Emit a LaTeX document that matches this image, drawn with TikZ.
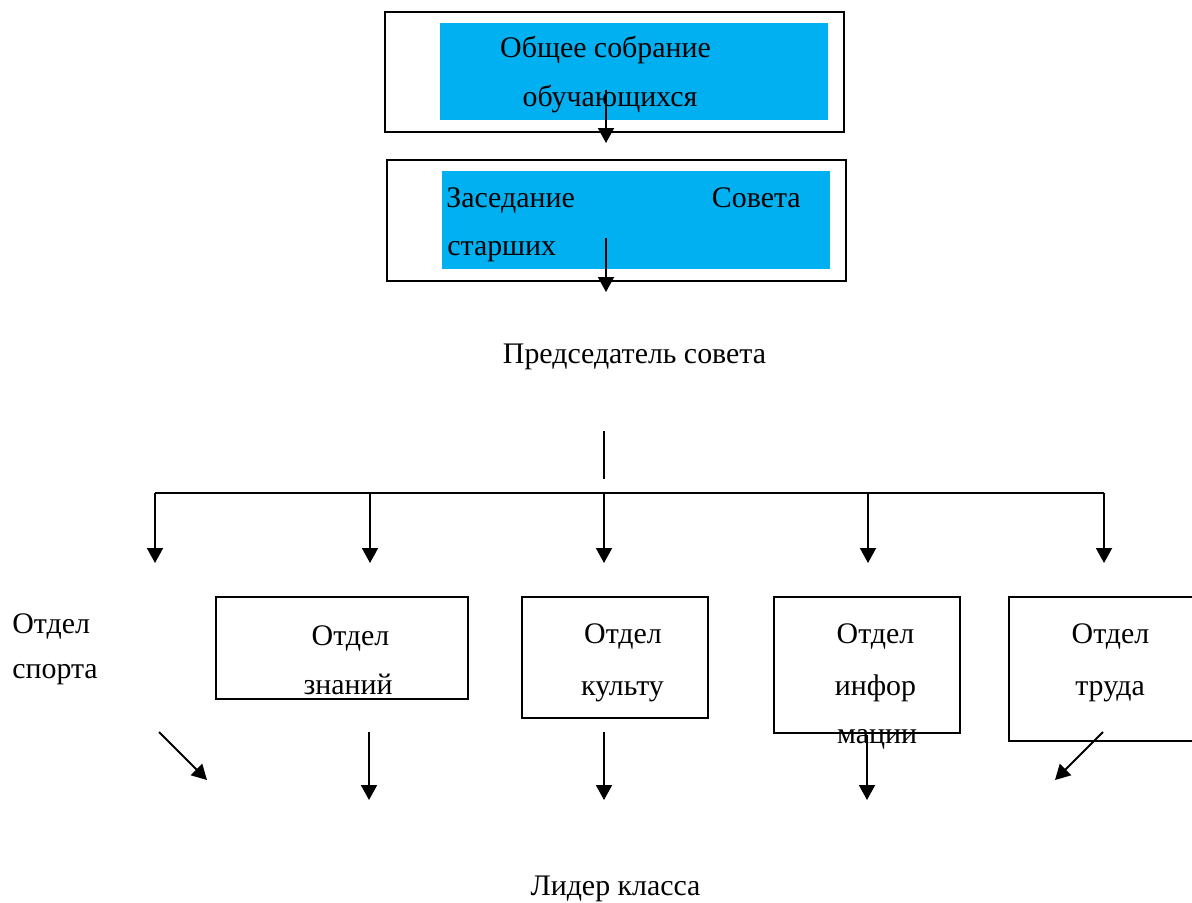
\documentclass[tikz,border=0pt]{standalone}
\usepackage{fontspec}
\setmainfont{Liberation Serif}
\usetikzlibrary{arrows.meta}
\definecolor{vdarkgray}{HTML}{000000}
\definecolor{vcyan}{HTML}{00B0F0}

\tikzset{
	frame/.style={draw=vdarkgray, line width=1.1pt},
	lbl/.style={anchor=base, inner sep=0pt, font=\fontsize{17}{20}\selectfont},
	link/.style={color=vdarkgray, line width=1.1pt, -{Triangle[length=0.3cm, width=0.32cm]}},
	wire/.style={color=vdarkgray, line width=1.1pt}
}

\begin{document}
\begin{tikzpicture}[x=0.02cm, y=-0.02cm]
		\useasboundingbox (0,0) rectangle (1192,902);
		% upper boxes
		\fill[color=vcyan] (440,23) rectangle (828,120);
		\draw[frame] (385,12) rectangle (844,132);
		\fill[color=vcyan] (442,171) rectangle (830,269);
		\draw[frame] (387,160) rectangle (846,281);
		\node[lbl] (sob1) at (605.5,58) {Общее собрание};
		\node[lbl] (sob2) at (610,107) {обучающихся};
		\node[lbl, anchor=base west] (zas1) at (446,207) {Заседание};
		\node[lbl, anchor=base east] (zas2) at (801,207) {Совета};
		\node[lbl, anchor=base west] (zas3) at (447,255) {старших};
		\node[lbl] (pred) at (634.5,363) {Председатель совета};
		% departments
		\draw[frame] (216,597) rectangle (468,699);
		\draw[frame] (522,597) rectangle (708,718);
		\draw[frame] (774,597) rectangle (960,733);
		\draw[frame] (1009,597) rectangle (1200,741);
		\node[lbl, anchor=base west] (sp1) at (12,633) {Отдел};
		\node[lbl, anchor=base west] (sp2) at (12,678) {спорта};
		\node[lbl] (zn1) at (350.5,645) {Отдел};
		\node[lbl] (zn2) at (348,694) {знаний};
		\node[lbl] (ku1) at (623,643) {Отдел};
		\node[lbl] (ku2) at (622.5,695) {культу};
		\node[lbl] (in1) at (875.5,643) {Отдел};
		\node[lbl] (in2) at (875.5,695) {инфор};
		\node[lbl] (in3) at (877,743) {мации};
		\node[lbl] (tr1) at (1110.5,643) {Отдел};
		\node[lbl] (tr2) at (1110,695) {труда};
		\node[lbl] (lid) at (615.5,895) {Лидер класса};
		% arrows
		\coordinate (A1) at (606,90);
		\coordinate (A2) at (606,143);
		\coordinate (B1) at (606,238);
		\coordinate (B2) at (606,292);
		\coordinate (P) at (604,431);
		\coordinate (Q) at (604,479);
		\coordinate (L) at (155,493);
		\coordinate (R) at (1104,493);
		\draw[link] (A1) -- (A2);
		\draw[link] (B1) -- (B2);
		\draw[wire] (P) -- (Q);
		\draw[wire] (L) -- (R);
		\foreach \x in {155,370,604,868,1104}
			\draw[link] (\x,493) -- (\x,563);
		\coordinate (S1) at (159,732);
		\coordinate (S2) at (207,780);
		\coordinate (K1) at (1103,732);
		\coordinate (K2) at (1055,780);
		\draw[link] (S1) -- (S2);
		\draw[link] (369,732) -- (369,800);
		\draw[link] (604,732) -- (604,800);
		\draw[link] (867,735) -- (867,800);
		\draw[link] (K1) -- (K2);
	\end{tikzpicture}
\end{document}
